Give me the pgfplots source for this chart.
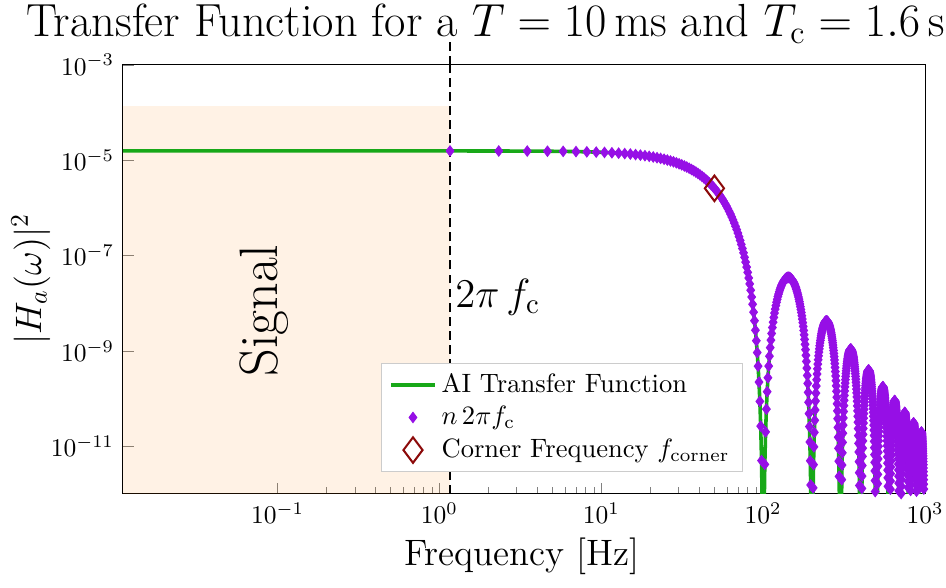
\RequirePackage{fix-cm}
\documentclass[border=0pt]{standalone}
\usepackage{pgfplots}
\usepackage{pgfplotstable}
\pgfplotsset{compat=1.18}

\definecolor{tfgreen}{RGB}{24,168,24}
\definecolor{harmonic}{RGB}{150,15,230}
\definecolor{cornerred}{RGB}{140,10,10}

% |H_a|^2 sampled at the harmonics n*2*pi*f_c (f in Hz)
\pgfplotstableread{
f H
1.1628 1.5611e-5
2.3256 1.5569e-5
3.4884 1.5500e-5
4.6512 1.5404e-5
5.8140 1.5281e-5
6.9767 1.5132e-5
8.1395 1.4957e-5
9.3023 1.4758e-5
10.4651 1.4535e-5
11.6279 1.4289e-5
12.7907 1.4022e-5
13.9535 1.3735e-5
15.1163 1.3428e-5
16.2791 1.3105e-5
17.4419 1.2765e-5
18.6047 1.2410e-5
19.7674 1.2043e-5
20.9302 1.1664e-5
22.0930 1.1275e-5
23.2558 1.0878e-5
24.4186 1.0474e-5
25.5814 1.0057e-5
26.7442 9.6445e-6
27.9070 9.2331e-6
29.0698 8.8164e-6
30.2326 8.4009e-6
31.3953 7.9878e-6
32.5581 7.5786e-6
33.7209 7.1744e-6
34.8837 6.7765e-6
36.0465 6.3859e-6
37.2093 6.0038e-6
38.3721 5.6310e-6
39.5349 5.2683e-6
40.6977 4.9168e-6
41.8605 4.5770e-6
43.0233 4.2496e-6
44.1860 3.9350e-6
45.3488 3.6337e-6
46.5116 3.3460e-6
47.6744 3.0721e-6
48.8372 2.8123e-6
50.0000 2.5665e-6
51.1628 2.3348e-6
52.3256 2.1170e-6
53.4884 1.9131e-6
54.6512 1.7227e-6
55.8140 1.5456e-6
56.9767 1.3816e-6
58.1395 1.2300e-6
59.3023 1.0906e-6
60.4651 9.6289e-7
61.6279 8.4631e-7
62.7907 7.4037e-7
63.9535 6.4450e-7
65.1163 5.5814e-7
66.2791 4.8071e-7
67.4419 4.1163e-7
68.6047 3.5033e-7
69.7674 2.9622e-7
70.9302 2.4873e-7
72.0930 2.0731e-7
73.2558 1.7133e-7
74.4186 1.4043e-7
75.5814 1.1411e-7
76.7442 9.1725e-8
77.9070 7.2917e-8
79.0698 5.7266e-8
80.2326 4.4373e-8
81.3953 3.3874e-8
82.5581 2.5430e-8
83.7209 1.8733e-8
84.8837 1.3505e-8
86.0465 9.4979e-9
87.2093 6.4886e-9
88.3721 4.2831e-9
89.5349 2.7128e-9
90.6977 1.6331e-9
91.8605 9.2200e-10
93.0233 4.7878e-10
94.1860 2.2187e-10
95.3488 8.7220e-11
96.5116 2.6455e-11
97.6744 5.0035e-12
98.8372 2.9906e-13
101.163 2.7249e-13
102.326 4.1539e-12
103.488 2.0011e-11
104.651 6.0104e-11
105.814 1.3927e-10
106.977 2.7374e-10
108.140 4.8008e-10
109.302 7.7424e-10
110.465 1.1708e-9
111.628 1.6824e-9
112.791 2.3190e-9
113.953 3.0878e-9
115.116 3.9926e-9
116.279 5.0343e-9
117.442 6.2100e-9
118.605 7.5140e-9
119.767 8.9366e-9
120.930 1.0466e-8
122.093 1.2089e-8
123.256 1.3786e-8
124.419 1.5540e-8
125.581 1.7317e-8
126.744 1.9120e-8
127.907 2.0923e-8
129.070 2.2685e-8
130.233 2.4398e-8
131.395 2.6036e-8
132.558 2.7580e-8
133.721 2.9013e-8
134.884 3.0316e-8
136.047 3.1472e-8
137.209 3.2470e-8
138.372 3.3301e-8
139.535 3.3952e-8
140.698 3.4420e-8
141.860 3.4702e-8
143.023 3.4796e-8
144.186 3.4705e-8
145.349 3.4432e-8
146.512 3.3984e-8
147.674 3.3371e-8
148.837 3.2600e-8
150.000 3.1686e-8
151.163 3.0640e-8
152.326 2.9478e-8
153.488 2.8214e-8
154.651 2.6866e-8
155.814 2.5448e-8
156.977 2.3978e-8
158.140 2.2472e-8
159.302 2.0944e-8
160.465 1.9412e-8
161.628 1.7889e-8
162.791 1.6388e-8
163.953 1.4921e-8
165.116 1.3500e-8
166.279 1.2135e-8
167.442 1.0834e-8
168.605 9.6031e-9
169.767 8.4491e-9
170.930 7.3753e-9
172.093 6.3847e-9
173.256 5.4758e-9
174.419 4.6539e-9
175.581 3.9182e-9
176.744 3.2606e-9
177.907 2.6814e-9
179.070 2.1769e-9
180.233 1.7426e-9
181.395 1.3733e-9
182.558 1.0636e-9
183.721 8.0782e-10
184.884 6.0008e-10
186.047 4.3459e-10
187.209 3.0555e-10
188.372 2.0747e-10
189.535 1.3509e-10
190.698 8.3563e-11
191.860 4.8451e-11
193.023 2.5826e-11
194.186 1.2279e-11
195.349 4.9504e-12
196.512 1.5391e-12
197.674 2.9826e-13
198.837 1.8258e-14
201.163 1.743e-14
202.326 2.718e-13
203.488 1.3387e-12
204.651 4.110e-12
205.814 9.731e-12
206.977 1.9535e-11
208.140 3.4981e-11
209.302 5.7583e-11
210.465 8.8852e-11
211.628 1.3024e-10
212.791 1.8306e-10
213.953 2.4848e-10
215.116 3.2743e-10
216.279 4.2062e-10
217.442 5.2846e-10
218.605 6.5107e-10
219.767 7.8826e-10
220.930 9.3953e-10
222.093 1.1041e-9
223.256 1.2807e-9
224.419 1.4681e-9
225.581 1.6633e-9
226.744 1.8666e-9
227.907 2.0757e-9
229.070 2.2866e-9
230.233 2.4978e-9
231.395 2.7069e-9
232.558 2.9114e-9
233.721 3.1088e-9
234.884 3.2968e-9
236.047 3.4729e-9
237.209 3.6350e-9
238.372 3.7811e-9
239.535 3.9095e-9
240.698 4.0186e-9
241.860 4.1072e-9
243.023 4.1742e-9
244.186 4.2189e-9
245.349 4.2411e-9
246.512 4.2406e-9
247.674 4.2175e-9
248.837 4.1726e-9
250.000 4.1064e-9
251.163 4.0202e-9
252.326 3.9151e-9
253.488 3.7926e-9
254.651 3.6545e-9
255.814 3.5026e-9
256.977 3.3388e-9
258.140 3.1650e-9
259.302 2.9835e-9
260.465 2.7964e-9
261.628 2.6056e-9
262.791 2.4132e-9
263.953 2.2211e-9
265.116 2.0312e-9
266.279 1.8452e-9
267.442 1.6646e-9
268.605 1.4909e-9
269.767 1.3252e-9
270.930 1.1685e-9
272.093 1.0217e-9
273.256 8.8495e-10
274.419 7.5951e-10
275.581 6.4566e-10
276.744 5.4244e-10
277.907 4.5034e-10
279.070 3.6905e-10
280.233 2.9816e-10
281.395 2.3714e-10
282.558 1.8533e-10
283.721 1.4203e-10
284.884 1.0645e-10
286.047 7.7770e-11
287.209 5.5157e-11
288.372 3.7775e-11
289.535 2.4807e-11
290.698 1.5475e-11
291.860 9.0479e-12
293.023 4.8629e-12
294.186 2.3310e-12
295.349 9.474e-13
296.512 2.969e-13
297.674 5.800e-14
298.837 3.579e-15
301.163 3.469e-15
305.814 1.9962e-12
306.977 4.0372e-12
308.140 7.2821e-12
309.302 1.2074e-11
310.465 1.8764e-11
311.628 2.7700e-11
312.791 3.9209e-11
313.953 5.3592e-11
315.116 7.1109e-11
316.279 9.1974e-11
317.442 1.1634e-10
318.605 1.4430e-10
319.767 1.7587e-10
320.930 2.1100e-10
322.093 2.4958e-10
323.256 2.9140e-10
324.419 3.3619e-10
325.581 3.8331e-10
326.744 4.3288e-10
327.907 4.8439e-10
329.070 5.3691e-10
330.233 5.9013e-10
331.395 6.4344e-10
332.558 6.9624e-10
333.721 7.4792e-10
334.884 7.9785e-10
336.047 8.4544e-10
337.209 8.9008e-10
338.372 9.3124e-10
339.535 9.6841e-10
340.698 1.0011e-9
341.860 1.0290e-9
343.023 1.0516e-9
344.186 1.0688e-9
345.349 1.0804e-9
346.512 1.0862e-9
347.674 1.0862e-9
348.837 1.0804e-9
350.000 1.0689e-9
351.163 1.0520e-9
352.326 1.0299e-9
353.488 1.0029e-9
354.651 9.7142e-10
355.814 9.3582e-10
356.977 8.9660e-10
358.140 8.5426e-10
359.302 8.0932e-10
360.465 7.6233e-10
361.628 7.1383e-10
362.791 6.6436e-10
363.953 6.1446e-10
365.116 5.6464e-10
366.279 5.1539e-10
367.442 4.6717e-10
368.605 4.2038e-10
369.767 3.7541e-10
370.930 3.3257e-10
372.093 2.9214e-10
373.256 2.5420e-10
374.419 2.1916e-10
375.581 1.8715e-10
376.744 1.5794e-10
377.907 1.3170e-10
379.070 1.0841e-10
380.233 8.7969e-11
381.395 7.0269e-11
382.558 5.5156e-11
383.721 4.2451e-11
384.884 3.1951e-11
386.047 2.3443e-11
387.209 1.6696e-11
388.372 1.1482e-11
389.535 7.5718e-12
390.698 4.7427e-12
391.860 2.7843e-12
393.023 1.5025e-12
394.186 7.2316e-13
398.837 1.128e-15
401.163 1.102e-15
406.977 1.3068e-12
408.140 2.3660e-12
409.302 3.9375e-12
410.465 6.1416e-12
411.628 9.0991e-12
412.791 1.2926e-11
413.953 1.7732e-11
415.116 2.3612e-11
416.279 3.0649e-11
417.442 3.8904e-11
418.605 4.8423e-11
419.767 5.9223e-11
420.930 7.1301e-11
422.093 8.4626e-11
423.256 9.9142e-11
424.419 1.1477e-10
425.581 1.3130e-10
426.744 1.4877e-10
427.907 1.6703e-10
429.070 1.8576e-10
430.233 2.0484e-10
431.395 2.2407e-10
432.558 2.4325e-10
433.721 2.6215e-10
434.884 2.8055e-10
436.047 2.9823e-10
437.209 3.1497e-10
438.372 3.3057e-10
439.535 3.4484e-10
440.698 3.5760e-10
441.860 3.6869e-10
443.023 3.7797e-10
444.186 3.8532e-10
445.349 3.9067e-10
446.512 3.9395e-10
447.674 3.9512e-10
448.837 3.9419e-10
450.000 3.9118e-10
451.163 3.8613e-10
452.326 3.7912e-10
453.488 3.7026e-10
454.651 3.5967e-10
455.814 3.4748e-10
456.977 3.3387e-10
458.140 3.1901e-10
459.302 3.0308e-10
460.465 2.8629e-10
461.628 2.6883e-10
462.791 2.5089e-10
463.953 2.3269e-10
465.116 2.1441e-10
466.279 1.9625e-10
467.442 1.7837e-10
468.605 1.6094e-10
469.767 1.4411e-10
470.930 1.2801e-10
472.093 1.1274e-10
473.256 9.8359e-11
474.419 8.5023e-11
475.581 7.2795e-11
476.744 6.1592e-11
477.907 5.1495e-11
479.070 4.2495e-11
480.233 3.4572e-11
481.395 2.7686e-11
482.558 2.1786e-11
483.721 1.6810e-11
484.884 1.2684e-11
486.047 9.3293e-12
487.209 6.6609e-12
488.372 4.5921e-12
489.535 3.0356e-12
490.698 1.9061e-12
491.860 1.1217e-12
493.023 6.068e-13
498.837 4.609e-16
501.163 4.524e-16
509.302 1.6424e-12
510.465 2.5676e-12
511.628 3.8124e-12
512.791 5.4280e-12
513.953 7.4622e-12
515.116 9.9583e-12
516.279 1.2954e-11
517.442 1.6479e-11
518.605 2.0555e-11
519.767 2.5194e-11
520.930 3.0396e-11
522.093 3.6153e-11
523.256 4.2444e-11
524.419 4.9237e-11
525.581 5.6445e-11
526.744 6.4091e-11
527.907 7.2106e-11
529.070 8.0353e-11
530.233 8.8789e-11
531.395 9.7324e-11
532.558 1.0587e-10
533.721 1.1432e-10
534.884 1.2259e-10
536.047 1.3058e-10
537.209 1.3818e-10
538.372 1.4532e-10
539.535 1.5189e-10
540.698 1.5781e-10
541.860 1.6302e-10
543.023 1.6745e-10
544.186 1.7104e-10
545.349 1.7375e-10
546.512 1.7554e-10
547.674 1.7640e-10
548.837 1.7632e-10
550.000 1.7530e-10
551.163 1.7336e-10
552.326 1.7053e-10
553.488 1.6685e-10
554.651 1.6238e-10
555.814 1.5717e-10
556.977 1.5129e-10
558.140 1.4482e-10
559.302 1.3784e-10
560.465 1.3044e-10
561.628 1.2270e-10
562.791 1.1472e-10
563.953 1.0659e-10
565.116 9.8389e-11
566.279 9.0212e-11
567.442 8.2138e-11
568.605 7.4242e-11
569.767 6.6594e-11
570.930 5.9255e-11
572.093 5.2280e-11
573.256 4.5688e-11
574.419 3.9561e-11
575.581 3.3929e-11
576.744 2.8757e-11
577.907 2.4083e-11
579.070 1.9907e-11
580.233 1.6223e-11
581.395 1.3013e-11
582.558 1.0257e-11
583.721 7.9273e-12
584.884 5.9914e-12
586.047 4.4140e-12
587.209 3.1567e-12
588.372 2.1798e-12
589.535 1.4433e-12
598.837 2.219e-16
601.163 2.185e-16
610.465 1.2553e-12
611.628 1.8667e-12
612.791 2.6616e-12
613.953 3.6645e-12
615.116 4.8975e-12
616.279 6.3803e-12
617.442 8.1283e-12
618.605 1.0153e-11
619.767 1.2463e-11
620.930 1.5058e-11
622.093 1.7936e-11
623.256 2.1086e-11
624.419 2.4496e-11
625.581 2.8122e-11
626.744 3.1977e-11
627.907 3.6026e-11
629.070 4.0203e-11
630.233 4.4486e-11
631.395 4.8830e-11
632.558 5.3190e-11
633.721 5.7517e-11
634.884 6.1762e-11
636.047 6.5875e-11
637.209 6.9807e-11
638.372 7.3510e-11
639.535 7.6938e-11
640.698 8.0047e-11
641.860 8.2801e-11
643.023 8.5163e-11
644.186 8.7104e-11
645.349 8.8600e-11
646.512 8.9633e-11
647.674 9.0189e-11
648.837 9.0266e-11
650.000 8.9861e-11
651.163 8.8983e-11
652.326 8.7644e-11
653.488 8.5866e-11
654.651 8.3671e-11
655.814 8.1089e-11
656.977 7.8155e-11
658.140 7.4908e-11
659.302 7.1387e-11
660.465 6.7639e-11
661.628 6.3707e-11
662.791 5.9638e-11
663.953 5.5479e-11
665.116 5.1275e-11
666.279 4.7072e-11
667.442 4.2912e-11
668.605 3.8834e-11
669.767 3.4876e-11
670.930 3.1070e-11
672.093 2.7446e-11
673.256 2.4015e-11
674.419 2.0819e-11
675.581 1.7877e-11
676.744 1.5170e-11
677.907 1.2719e-11
679.070 1.0526e-11
680.233 8.5881e-12
681.395 6.8971e-12
682.558 5.4428e-12
683.721 4.2114e-12
684.884 3.1867e-12
686.047 2.3504e-12
687.209 1.6829e-12
688.372 1.1634e-12
698.837 1.197e-16
701.163 1.181e-16
711.628 1.0186e-12
712.791 1.4540e-12
713.953 2.0039e-12
715.116 2.6810e-12
716.279 3.4964e-12
717.442 4.4590e-12
718.605 5.5757e-12
719.767 6.8510e-12
720.930 8.2863e-12
722.093 9.8801e-12
723.256 1.1628e-11
724.419 1.3522e-11
725.581 1.5540e-11
726.744 1.7688e-11
727.907 1.9948e-11
729.070 2.2283e-11
730.233 2.4682e-11
731.395 2.7120e-11
732.558 2.9571e-11
733.721 3.2008e-11
734.884 3.4405e-11
736.047 3.6733e-11
737.209 3.8964e-11
738.372 4.1072e-11
739.535 4.3029e-11
740.698 4.4812e-11
741.860 4.6399e-11
743.023 4.7770e-11
744.186 4.8906e-11
745.349 4.9794e-11
746.512 5.0423e-11
747.674 5.0785e-11
748.837 5.0876e-11
750.000 5.0697e-11
751.163 5.0249e-11
752.326 4.9540e-11
753.488 4.8581e-11
754.651 4.7384e-11
755.814 4.5965e-11
756.977 4.4343e-11
758.140 4.2541e-11
759.302 4.0579e-11
760.465 3.8484e-11
761.628 3.6280e-11
762.791 3.3994e-11
763.953 3.1653e-11
765.116 2.9281e-11
766.279 2.6905e-11
767.442 2.4550e-11
768.605 2.2237e-11
769.767 1.9989e-11
770.930 1.7824e-11
772.093 1.5759e-11
773.256 1.3801e-11
774.419 1.1975e-11
775.581 1.0292e-11
776.744 8.7409e-12
777.907 7.3354e-12
779.070 6.0762e-12
780.233 4.9617e-12
781.395 3.9882e-12
782.558 3.1500e-12
783.721 2.4395e-12
784.884 1.8475e-12
786.047 1.3639e-12
787.209 9.773e-13
798.837 7.008e-17
801.163 6.927e-17
813.953 1.1862e-12
815.116 1.5883e-12
816.279 2.0730e-12
817.442 2.6458e-12
818.605 3.3111e-12
819.767 4.0716e-12
820.930 4.9284e-12
822.093 5.8810e-12
823.256 6.9268e-12
824.419 8.0614e-12
825.581 9.2714e-12
826.744 1.0561e-11
827.907 1.1920e-11
829.070 1.3326e-11
830.233 1.4772e-11
831.395 1.6243e-11
832.558 1.7724e-11
833.721 1.9200e-11
834.884 2.0654e-11
836.047 2.2068e-11
837.209 2.3426e-11
838.372 2.4711e-11
839.535 2.5909e-11
840.698 2.7002e-11
841.860 2.7979e-11
843.023 2.8827e-11
844.186 2.9535e-11
845.349 3.0093e-11
846.512 3.0496e-11
847.674 3.0737e-11
848.837 3.0815e-11
850.000 3.0729e-11
851.163 3.0480e-11
852.326 3.0072e-11
853.488 2.9511e-11
854.651 2.8804e-11
855.814 2.7962e-11
856.977 2.6995e-11
858.140 2.5916e-11
859.302 2.4739e-11
860.465 2.3478e-11
861.628 2.2149e-11
862.791 2.0769e-11
863.953 1.9352e-11
865.116 1.7914e-11
866.279 1.6472e-11
867.442 1.5041e-11
868.605 1.3633e-11
869.767 1.2264e-11
870.930 1.0943e-11
872.093 9.6817e-12
873.256 8.4846e-12
874.419 7.3673e-12
875.581 6.3360e-12
876.744 5.3849e-12
877.907 4.5222e-12
879.070 3.7483e-12
880.233 3.0629e-12
881.395 2.4637e-12
882.558 1.9472e-12
883.721 1.5090e-12
884.884 1.1436e-12
898.837 4.372e-17
901.163 4.327e-17
915.116 9.998e-13
916.279 1.3057e-12
917.442 1.6675e-12
918.605 2.0881e-12
919.767 2.5693e-12
920.930 3.1119e-12
922.093 3.7157e-12
923.256 4.3791e-12
924.419 5.0995e-12
925.581 5.8685e-12
926.744 6.6889e-12
927.907 7.5541e-12
929.070 8.4501e-12
930.233 9.3726e-12
931.395 1.0312e-11
932.558 1.1260e-11
933.721 1.2205e-11
934.884 1.3136e-11
936.047 1.4044e-11
937.209 1.4917e-11
938.372 1.5745e-11
939.535 1.6518e-11
940.698 1.7225e-11
941.860 1.7859e-11
943.023 1.8411e-11
944.186 1.8874e-11
945.349 1.9242e-11
946.512 1.9511e-11
947.674 1.9676e-11
948.837 1.9738e-11
950.000 1.9693e-11
951.163 1.9546e-11
952.326 1.9295e-11
953.488 1.8946e-11
954.651 1.8503e-11
955.814 1.7972e-11
956.977 1.7360e-11
958.140 1.6676e-11
959.302 1.5927e-11
960.465 1.5124e-11
961.628 1.4276e-11
962.791 1.3394e-11
963.953 1.2487e-11
965.116 1.1566e-11
966.279 1.0641e-11
967.442 9.7214e-12
968.605 8.8167e-12
969.767 7.9351e-12
970.930 7.0844e-12
972.093 6.2715e-12
973.256 5.4990e-12
974.419 4.7775e-12
975.581 4.1110e-12
976.744 3.4958e-12
977.907 2.9373e-12
979.070 2.4360e-12
980.233 1.9916e-12
981.395 1.6028e-12
982.558 1.2675e-12
983.721 9.828e-13
998.837 2.867e-17
}\transfer

% the curve continues just past the upper frequency limit
\pgfplotstableread{
f H
998.837 2.867e-17
1001.163 2.84e-17
1005.814 1.706e-14
1011.628 2.494e-13
1017.442 1.1024e-12
1023.256 2.902e-12
1034.884 8.748e-12
1050.000 1.3197e-11
}\transfertail

\begin{document}
\begin{tikzpicture}
\begin{axis}[
  scale only axis,
  width=314.4pt, height=168.2pt,
  xmode=log, ymode=log,
  xmin=0.0111, xmax=1000,
  ymin=1e-12, ymax=1e-3,
  xtick={0.1,1,10,100,1000},
  ytick={1e-11,1e-9,1e-7,1e-5,1e-3},
  yminorticks=false,
  tick pos=left,
  tick align=inside,
  ticklabel style={font=\normalsize},
  legend cell align=left,
  legend style={at={(0.322,0.051)}, anchor=south west,
    draw=black!20, font=\fontsize{10.4}{12.5}\selectfont},
]
% signal band below the fundamental
\addplot[draw=none, fill=orange, fill opacity=0.1, forget plot]
  coordinates {(0.001,1e-13) (1.1628,1e-13) (1.1628,1.4e-4) (0.001,1.4e-4)} -- cycle;
% fundamental 2 pi f_c
\addplot[black, line width=0.8pt, dash pattern=on 3.5pt off 2pt, forget plot]
  coordinates {(1.1628,1e-12) (1.1628,1e-3)};
\coordinate (dtop) at (axis cs:1.1628,1e-3);
\addplot[tfgreen, line width=1.4pt, forget plot]
  coordinates {(0.0111,1.5625e-5) (1.1628,1.5611e-5)};
\addplot[tfgreen, line width=1.4pt, forget plot] table {\transfertail};
\addplot[tfgreen, line width=1.4pt] table {\transfer};
\addlegendentry{AI Transfer Function}
\addplot[only marks, mark=diamond*, mark size=2pt, harmonic] table {\transfer};
\addlegendentry{$n\,2\pi f_\mathrm{c}$}
\addplot[only marks, mark=diamond, mark size=5pt, cornerred, line width=0.8pt]
  coordinates {(50,2.5665e-6)};
\addlegendentry{Corner Frequency $f_\mathrm{corner}$}
\node[rotate=90, font=\fontsize{21.2}{25}\selectfont] at (axis cs:0.0830,7.0e-9) {Signal};
\node[anchor=base west, inner sep=0pt, font=\fontsize{16}{19}\selectfont]
  at (axis cs:1.247,8.28e-9) {$2\pi\, f_\mathrm{c}$};
\end{axis}
\draw[black, line width=0.8pt, dash pattern=on 3.5pt off 2pt] (dtop) -- ++(0,9.7pt);
\node[anchor=base west, inner sep=0pt, font=\fontsize{18.2}{22}\selectfont]
  at ([xshift=-38pt,yshift=179.1pt]current axis.south west)
  {Transfer Function for a $T = 10\,\mathrm{ms}$ and $T_\mathrm{c} = 1.6\,\mathrm{s}$};
\node[rotate=90, font=\Large]
  at ([xshift=-36.1pt,yshift=84.3pt]current axis.south west) {$|H_a(\omega)|^2$};
\node[anchor=base, inner sep=0pt, font=\Large]
  at ([xshift=156.4pt,yshift=-28.2pt]current axis.south west) {Frequency [Hz]};
\pgfresetboundingbox
\useasboundingbox ([xshift=-48.2pt,yshift=-36.5pt]current axis.south west) rectangle ++(370.8pt,230.1pt);
\end{tikzpicture}
\end{document}
